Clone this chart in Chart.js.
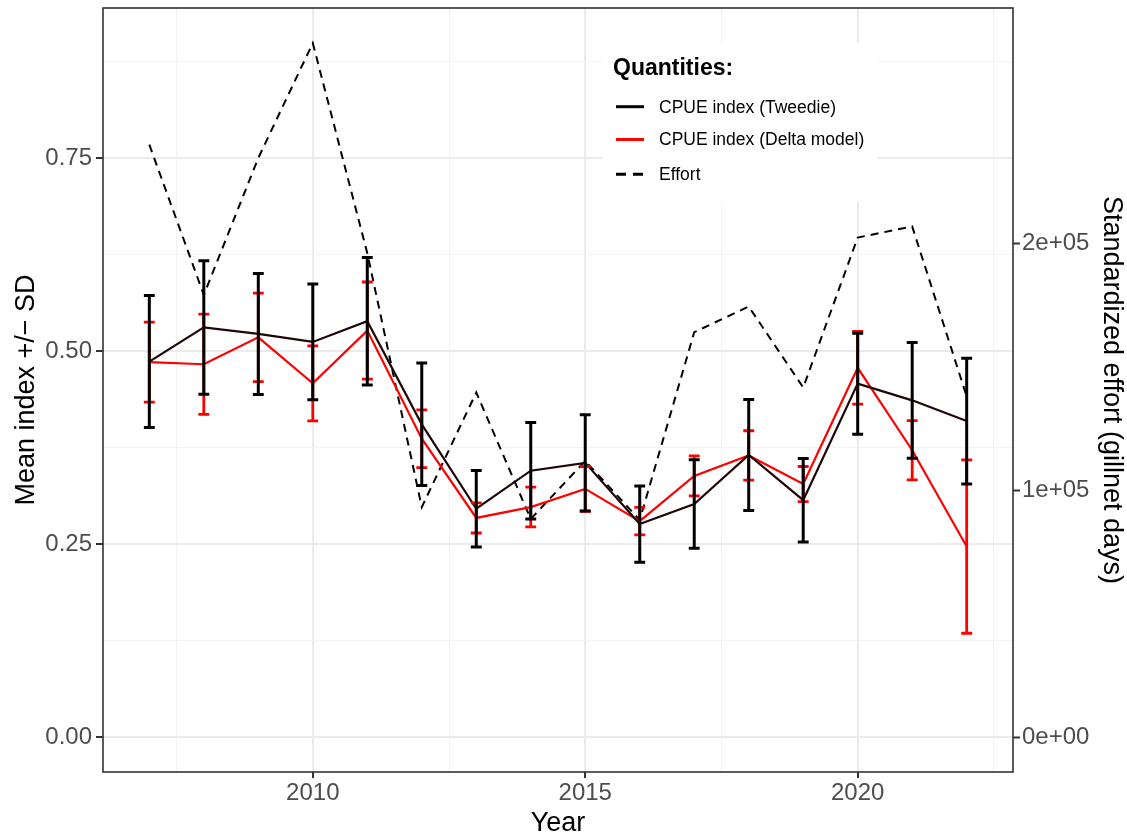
<!DOCTYPE html>
<html><head><meta charset="utf-8">
<script src="https://cdn.jsdelivr.net/npm/chart.js@4.4.0/dist/chart.umd.min.js"></script>
<style>html,body{margin:0;padding:0;background:#fff}</style>
</head><body>
<canvas id="c" width="1127" height="837"></canvas>
<script>
// ---- data ----
const years = [2007,2008,2009,2010,2011,2012,2013,2014,2015,2016,2017,2018,2019,2020,2021,2022];
const tweedieMean = [0.4865,0.5307,0.5223,0.5119,0.5388,0.4052,0.2959,0.3452,0.3553,0.2761,0.3020,0.3655,0.3070,0.4579,0.4363,0.4095];
const tweedieSD   = [0.0855,0.0864,0.0783,0.0749,0.0825,0.0793,0.0494,0.0624,0.0622,0.0494,0.0572,0.0720,0.0540,0.0654,0.0749,0.0814];
const deltaMean   = [0.4858,0.4830,0.5178,0.4583,0.5266,0.3866,0.2840,0.2981,0.3216,0.2798,0.3385,0.3649,0.3279,0.4784,0.3717,0.2470];
const deltaSD     = [0.0518,0.0650,0.0572,0.0486,0.0629,0.0374,0.0195,0.0257,0.0289,0.0178,0.0259,0.0320,0.0227,0.0471,0.0384,0.1123];
const effort      = [240000,179200,234600,281100,196100,93300,139700,88500,112000,88100,164100,174500,141700,202400,206900,138100];
const seriesNames = ['CPUE index (Tweedie)','CPUE index (Delta model)','Effort'];
const legendTitle = 'Quantities:';
const xTicks = [2007.5,2010,2012.5,2015,2017.5,2020,2022.5];
const xTickLabels = ['','2010','','2015','','2020',''];
const yTicks = [0,0.125,0.25,0.375,0.5,0.625,0.75,0.875];
const yTickLabels = ['0.00','','0.25','','0.50','','0.75',''];
const y2Ticks = [0,100000,200000];
const y2TickLabels = ['0e+00','1e+05','2e+05'];
const xTitle = 'Year';
const yTitle = 'Mean index +/\u2212 SD';
const y2Title = 'Standardized effort (gillnet days)';

// ---- styles ----
const FONT = '"Liberation Sans", Arial, Helvetica, sans-serif';
const TWEEDIE_COLOR = '#1e0606';
const DELTA_COLOR = '#ff0000';
const ERR_WIDTH = 0.2;

const errorBarsPlugin = {
  id: 'errorBars',
  afterDatasetsDraw(chart) {
    const {ctx, scales: {x, y}, chartArea} = chart;
    ctx.save();
    ctx.beginPath();
    ctx.rect(chartArea.left, chartArea.top, chartArea.right - chartArea.left, chartArea.bottom - chartArea.top);
    ctx.clip();
    const draw = (means, sds, color, lw) => {
      ctx.strokeStyle = color; ctx.lineWidth = lw; ctx.lineCap = 'butt';
      years.forEach((yr, i) => {
        const px = x.getPixelForValue(yr);
        const hw = x.getPixelForValue(yr + ERR_WIDTH / 2) - px;
        const top = y.getPixelForValue(means[i] + sds[i]);
        const bot = y.getPixelForValue(means[i] - sds[i]);
        ctx.beginPath();
        ctx.moveTo(px - hw, top); ctx.lineTo(px + hw, top);
        ctx.moveTo(px, top); ctx.lineTo(px, bot);
        ctx.moveTo(px - hw, bot); ctx.lineTo(px + hw, bot);
        ctx.stroke();
      });
    };
    draw(deltaMean, deltaSD, DELTA_COLOR, 2.8);
    draw(tweedieMean, tweedieSD, '#000000', 3);
    ctx.restore();
  },
  afterDraw(chart) {
    const {ctx, chartArea: a} = chart;
    ctx.save();
    // panel border
    ctx.strokeStyle = '#333333'; ctx.lineWidth = 1.6;
    ctx.strokeRect(a.left, a.top, a.right - a.left, a.bottom - a.top);
    // legend
    ctx.fillStyle = '#ffffff';
    ctx.fillRect(602, 43, 276, 159);
    ctx.fillStyle = '#000000';
    ctx.font = 'bold 23px ' + FONT;
    ctx.textBaseline = 'alphabetic'; ctx.textAlign = 'left';
    ctx.fillText(legendTitle, 613, 74.5);
    const rowsY = [106.7, 139.5, 174.3];
    ctx.font = '17.5px ' + FONT;
    ctx.textBaseline = 'middle';
    chart.data.datasets.forEach((ds, i) => {
      ctx.strokeStyle = i === 0 ? '#000000' : ds.borderColor;
      ctx.lineWidth = 3;
      ctx.setLineDash(ds.borderDash && ds.borderDash.length ? [10, 7] : []);
      ctx.beginPath(); ctx.moveTo(616, rowsY[i]); ctx.lineTo(644, rowsY[i]); ctx.stroke();
      ctx.setLineDash([]);
      ctx.fillStyle = '#000000';
      ctx.fillText(ds.label, 659, rowsY[i] + 1);
    });
    ctx.restore();
  }
};

const tickFont = {family: FONT, size: 24};
const titleFont = {family: FONT, size: 27, lineHeight: 1};

new Chart(document.getElementById('c'), {
  type: 'line',
  data: {
    datasets: [
      { label: seriesNames[0], data: years.map((yr, i) => ({x: yr, y: tweedieMean[i]})),
        borderColor: TWEEDIE_COLOR, borderWidth: 2.2, pointRadius: 0, yAxisID: 'y', tension: 0 },
      { label: seriesNames[1], data: years.map((yr, i) => ({x: yr, y: deltaMean[i]})),
        borderColor: DELTA_COLOR, borderWidth: 2.2, pointRadius: 0, yAxisID: 'y', tension: 0 },
      { label: seriesNames[2], data: years.map((yr, i) => ({x: yr, y: effort[i]})),
        borderColor: '#000000', borderWidth: 2, borderDash: [8, 6], pointRadius: 0, yAxisID: 'y2', tension: 0 }
    ]
  },
  options: {
    responsive: false,
    animation: false,
    devicePixelRatio: 1,
    layout: { padding: { top: 8, left: 0, right: 0, bottom: 0 } },
    plugins: { legend: { display: false }, tooltip: { enabled: false } },
    scales: {
      x: {
        type: 'linear', position: 'bottom', min: 2006.15, max: 2022.85,
        afterBuildTicks: s => { s.ticks = xTicks.map(v => ({value: v})); },
        afterFit: s => { s.height = 65; s.paddingLeft = 0; s.paddingRight = 0; },
        ticks: { autoSkip: false, maxRotation: 0, font: tickFont, color: '#4d4d4d', padding: 1,
                 callback: (v, i) => xTickLabels[i] },
        grid: {
          color: c => xTickLabels[c.index] ? '#ebebeb' : '#f3f3f3',
          lineWidth: c => xTickLabels[c.index] ? 2 : 1,
          tickColor: c => xTickLabels[c.index] ? '#333333' : 'rgba(0,0,0,0)',
          tickWidth: 2, tickLength: 6
        },
        border: { display: false },
        title: { display: true, text: xTitle, font: titleFont, color: '#000000', padding: { top: 0, bottom: 0 } }
      },
      y: {
        type: 'linear', position: 'left', min: -0.04495, max: 0.9443,
        afterBuildTicks: s => { s.ticks = yTicks.map(v => ({value: v})); },
        afterFit: s => { s.width = 103; s.paddingTop = 0; s.paddingBottom = 0; },
        ticks: { font: tickFont, color: '#4d4d4d', padding: 4, callback: (v, i) => yTickLabels[i] },
        grid: {
          color: c => yTickLabels[c.index] ? '#ebebeb' : '#f3f3f3',
          lineWidth: c => yTickLabels[c.index] ? 2 : 1,
          tickColor: c => yTickLabels[c.index] ? '#333333' : 'rgba(0,0,0,0)',
          tickWidth: 2, tickLength: 7
        },
        border: { display: false },
        title: { display: true, text: yTitle, font: titleFont, color: '#000000', padding: { top: 13.5, bottom: 0 } }
      },
      y2: {
        type: 'linear', position: 'right', min: -13887, max: 295304,
        afterBuildTicks: s => { s.ticks = y2Ticks.map(v => ({value: v})); },
        afterFit: s => { s.width = 114; s.paddingTop = 0; s.paddingBottom = 0; },
        ticks: { font: tickFont, color: '#4d4d4d', padding: 2, callback: (v, i) => y2TickLabels[i] },
        grid: { drawOnChartArea: false, tickColor: '#333333', tickWidth: 2, tickLength: 7 },
        border: { display: false },
        title: { display: true, text: y2Title, font: titleFont, color: '#000000', padding: { top: 2.5, bottom: 0 } }
      }
    }
  },
  plugins: [errorBarsPlugin]
});
</script>
</body></html>
